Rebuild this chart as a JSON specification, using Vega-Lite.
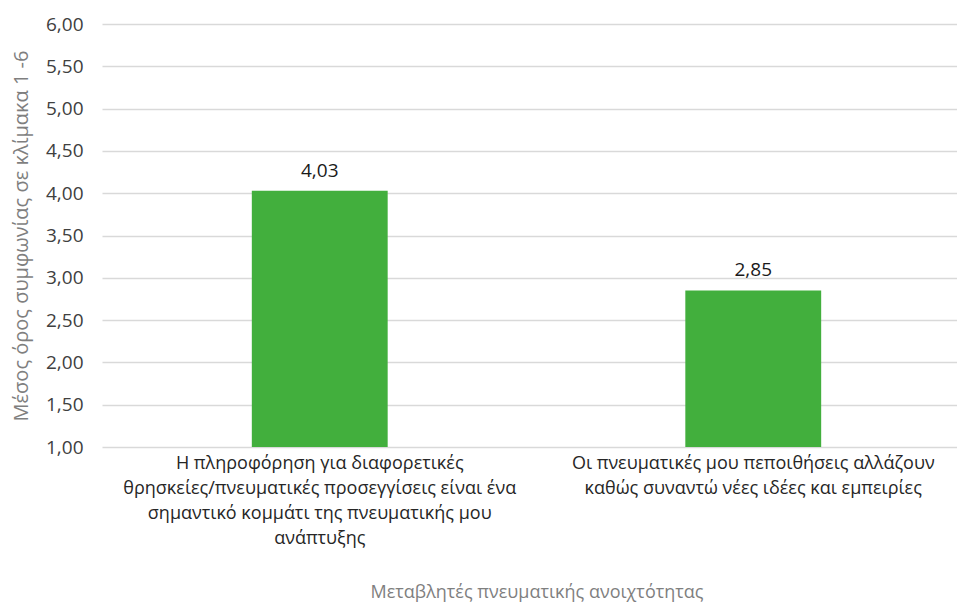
{
  "$schema": "https://vega.github.io/schema/vega-lite/v6.json",
  "autosize": "none",
  "width": 855,
  "height": 423,
  "padding": {"left": 102, "top": 24, "right": 0, "bottom": 158},
  "background": "white",
  "config": {
    "locale": {"number": {"decimal": ",", "thousands": ".", "grouping": [3], "currency": ["", " €"]}},
    "view": {"stroke": null},
    "font": "Open Sans"
  },
  "data": {
    "values": [
      {"category": "Η πληροφόρηση για διαφορετικές|θρησκείες/πνευματικές προσεγγίσεις είναι ένα|σημαντικό κομμάτι της πνευματικής μου|ανάπτυξης", "value": 4.03},
      {"category": "Οι πνευματικές μου πεποιθήσεις αλλάζουν|καθώς συναντώ νέες ιδέες και εμπειρίες", "value": 2.85}
    ]
  },
  "encoding": {
    "x": {
      "field": "category",
      "type": "nominal",
      "sort": null,
      "scale": {"range": [0, 869], "paddingInner": 0.6866, "paddingOuter": 0.3456},
      "axis": {
        "title": "Μεταβλητές πνευματικής ανοιχτότητας",
        "titleFont": "Open Sans",
        "titleFontSize": 18,
        "titleFontWeight": "normal",
        "titleColor": "#7f7f7f",
        "titlePadding": 36,
        "labelExpr": "split(datum.label, '|')",
        "labelAngle": 0,
        "labelFont": "Open Sans",
        "labelFontSize": 18,
        "labelColor": "#262626",
        "labelLineHeight": 25,
        "labelPadding": 7,
        "labelLimit": 0,
        "domain": false,
        "ticks": false
      }
    },
    "y": {
      "field": "value",
      "type": "quantitative",
      "scale": {"domain": [1, 6], "nice": false, "zero": false},
      "axis": {
        "title": "Μέσος όρος συμφωνίας σε κλίμακα 1 -6",
        "titleFont": "Open Sans",
        "titleFontSize": 20,
        "titleFontWeight": "normal",
        "titleColor": "#7f7f7f",
        "titlePadding": 14,
        "values": [1, 1.5, 2, 2.5, 3, 3.5, 4, 4.5, 5, 5.5, 6],
        "format": ",.2f",
        "labelFont": "Open Sans",
        "labelFontSize": 19,
        "labelColor": "#404040",
        "labelPadding": 19,
        "domain": false,
        "ticks": false,
        "grid": true,
        "gridColor": "#d9d9d9",
        "gridWidth": 1.5
      }
    }
  },
  "layer": [
    {"mark": {"type": "bar", "color": "#42af3d"}, "encoding": {"y2": {"datum": 1}}},
    {
      "mark": {"type": "text", "baseline": "bottom", "dy": -10, "fontSize": 19, "color": "#1a1a1a", "font": "Open Sans"},
      "encoding": {"text": {"field": "value", "type": "quantitative", "format": ",.2f"}}
    }
  ]
}
